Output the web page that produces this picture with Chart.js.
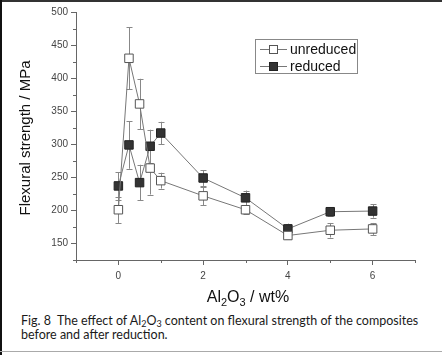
<!DOCTYPE html>
<html><head><meta charset="utf-8">
<script src="https://cdn.jsdelivr.net/npm/chart.js@4/dist/chart.umd.min.js"></script>
<style>
html,body{margin:0;padding:0;background:#fff;}
#wrap{position:relative;width:442px;height:355px;overflow:hidden;background:#fff;}
#box{position:absolute;left:0;top:0;width:442px;height:310px;}
#cap{position:absolute;left:21px;top:314px;font-family:Lato,"Open Sans",sans-serif;font-size:12.5px;line-height:13.5px;color:#1a1a1a;white-space:nowrap;}
#cap sub{font-size:9px;vertical-align:-2px;line-height:0;}
.bt{position:absolute;left:0;top:0;width:442px;height:2px;background:#333;}
.bl{position:absolute;left:0;top:0;width:2px;height:355px;background:#111;}
.bb{position:absolute;left:0;top:351px;width:442px;height:1px;background:#aaa;}
</style></head>
<body>
<div id="wrap">
  <div id="box"><canvas id="cv"></canvas></div>
  <div id="cap">Fig. 8&nbsp; The effect of Al<sub>2</sub>O<sub>3</sub> content on flexural strength of the composites<br>before and after reduction.</div>
  <div class="bt"></div><div class="bl"></div><div class="bb"></div>
</div>
<script>
// ---- data ----
const alContent = [0, 0.25, 0.5, 0.75, 1, 2, 3, 4, 5, 6];
const unreduced = [201, 430, 361, 264, 245, 222, 201, 162, 170, 172];
const unreducedErr = [20, 47, 38, 40, 12, 14, 6, 6, 11, 9];
const reduced = [237, 299, 242, 297, 317, 249, 219, 172, 198, 199];
const reducedErr = [21, 36, 27, 25, 17, 12, 11, 8, 7, 10];
const xTicks = [0, 2, 4, 6];
const xMinorTicks = [-1, 1, 3, 5, 7];
const yTicks = [150, 200, 250, 300, 350, 400, 450, 500];
const yMinorTicks = [125, 175, 225, 275, 325, 375, 425, 475];
const seriesNames = ['unreduced', 'reduced'];
const yTitle = 'Flexural strength / MPa';

const AXIS = '#666';
const toPts = (ys) => alContent.map((x, i) => ({x: x, y: ys[i]}));

const errorBars = {
  id: 'errorBars',
  beforeDatasetsDraw(chart) {
    const {ctx, scales: {x, y}} = chart;
    ctx.save();
    ctx.strokeStyle = '#888';
    ctx.lineWidth = 1;
    chart.data.datasets.forEach(ds => {
      ds.data.forEach((p, i) => {
        const e = ds.err[i];
        const px = Math.round(x.getPixelForValue(p.x)) + 0.5;
        const yt = y.getPixelForValue(p.y + e), yb = y.getPixelForValue(p.y - e);
        ctx.beginPath();
        ctx.moveTo(px, yt); ctx.lineTo(px, yb);
        ctx.moveTo(px - 3, Math.round(yt) + 0.5); ctx.lineTo(px + 3, Math.round(yt) + 0.5);
        ctx.moveTo(px - 3, Math.round(yb) + 0.5); ctx.lineTo(px + 3, Math.round(yb) + 0.5);
        ctx.stroke();
      });
    });
    ctx.restore();
  }
};

const extras = {
  id: 'extras',
  afterDraw(chart) {
    const {ctx, chartArea: a, scales: {x, y}} = chart;
    ctx.save();
    ctx.strokeStyle = AXIS; ctx.lineWidth = 1;
    ctx.beginPath();
    yMinorTicks.forEach(v => { const py = Math.round(y.getPixelForValue(v)) + 0.5; ctx.moveTo(a.left - 3, py); ctx.lineTo(a.left, py); });
    xMinorTicks.forEach(v => { const px = Math.round(x.getPixelForValue(v)) + 0.5; ctx.moveTo(px, a.bottom); ctx.lineTo(px, a.bottom + 3); });
    ctx.stroke();

    // y title
    ctx.fillStyle = '#111';
    ctx.font = '15px "Liberation Sans", Arial, sans-serif';
    ctx.textAlign = 'center'; ctx.textBaseline = 'middle';
    ctx.translate(26, 138);
    ctx.rotate(-Math.PI / 2);
    ctx.fillText(yTitle, 0, 0);
    ctx.setTransform(1, 0, 0, 1, 0, 0);

    // x title with subscripts
    const parts = [['Al', 16, 0], ['2', 11, 4], ['O', 16, 0], ['3', 11, 4], [' / wt%', 16, 0]];
    let total = 0;
    parts.forEach(p => { ctx.font = p[1] + 'px "Liberation Sans", Arial, sans-serif'; total += ctx.measureText(p[0]).width; });
    let cx = 248 - total / 2;
    ctx.textAlign = 'left'; ctx.textBaseline = 'alphabetic';
    parts.forEach(p => {
      ctx.font = p[1] + 'px "Liberation Sans", Arial, sans-serif';
      ctx.fillText(p[0], cx, 302 + p[2]);
      cx += ctx.measureText(p[0]).width;
    });

    // legend
    const lx = 255.5, ly = 39.5, lw = 102, lh = 34;
    ctx.strokeStyle = '#888'; ctx.lineWidth = 1;
    ctx.strokeRect(lx, ly, lw, lh);
    ctx.font = '14px "Liberation Sans", Arial, sans-serif';
    ctx.textBaseline = 'middle';
    chart.data.datasets.forEach((ds, i) => {
      const yy = 49.5 + i * 17;
      ctx.strokeStyle = '#777';
      ctx.beginPath(); ctx.moveTo(260, yy); ctx.lineTo(287, yy); ctx.stroke();
      ctx.fillStyle = ds.pointBackgroundColor; ctx.strokeStyle = ds.pointBorderColor;
      ctx.fillRect(269.5, yy - 4, 8, 8); ctx.strokeRect(269.5, yy - 4, 8, 8);
      ctx.fillStyle = '#111';
      ctx.fillText(ds.label, 290, yy + 0.5);
    });
    ctx.restore();
  }
};

new Chart(document.getElementById('cv'), {
  type: 'line',
  data: {
    datasets: [
      {label: seriesNames[0], data: toPts(unreduced), err: unreducedErr,
       borderColor: '#777', borderWidth: 1, pointStyle: 'rect', pointRadius: 6, pointHoverRadius: 6,
       pointBackgroundColor: '#ffffff', pointBorderColor: '#555', pointBorderWidth: 1},
      {label: seriesNames[1], data: toPts(reduced), err: reducedErr,
       borderColor: '#777', borderWidth: 1, pointStyle: 'rect', pointRadius: 6, pointHoverRadius: 6,
       pointBackgroundColor: '#333333', pointBorderColor: '#222', pointBorderWidth: 1}
    ]
  },
  options: {
    responsive: true, maintainAspectRatio: false, animation: false,
    layout: {padding: {left: 0, right: 27, top: 12, bottom: 0}},
    plugins: {legend: {display: false}, tooltip: {enabled: false}},
    scales: {
      x: {
        type: 'linear', min: -1, max: 7,
        afterBuildTicks: s => { s.ticks = xTicks.map(v => ({value: v})); },
        afterFit: s => { s.height = 50; },
        grid: {display: true, drawOnChartArea: false, drawTicks: true, tickLength: 5, color: AXIS},
        border: {display: true, color: AXIS},
        ticks: {font: {size: 10, family: '"Liberation Sans", Arial'}, color: '#444', padding: 5, maxRotation: 0}
      },
      y: {
        type: 'linear', min: 125, max: 500,
        afterBuildTicks: s => { s.ticks = yTicks.map(v => ({value: v})); },
        afterFit: s => { s.width = 76; },
        grid: {display: true, drawOnChartArea: false, drawTicks: true, tickLength: 5, color: AXIS},
        border: {display: true, color: AXIS},
        ticks: {font: {size: 10, family: '"Liberation Sans", Arial'}, color: '#444', padding: 3}
      }
    }
  },
  plugins: [errorBars, extras]
});
</script>
</body></html>
